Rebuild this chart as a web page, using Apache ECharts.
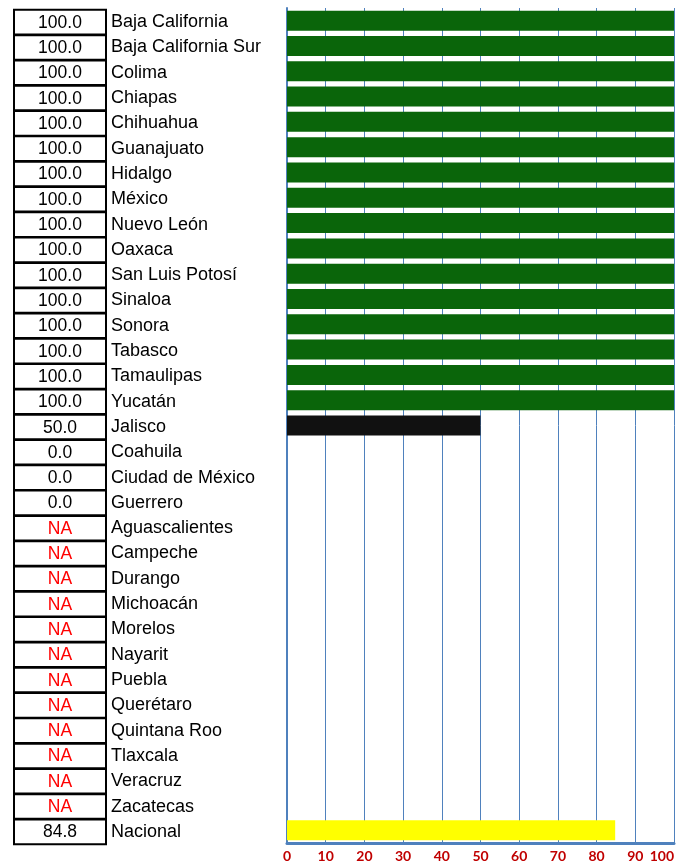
<!DOCTYPE html>
<html>
<head>
<meta charset="utf-8">
<script src="https://cdn.jsdelivr.net/npm/echarts@6/dist/echarts.min.js"></script>
<style>
  html, body { margin: 0; padding: 0; background: #fff; }
  #chartArea { width: 693px; height: 867px; }
</style>
</head>
<body>
<div id="chartArea"></div>
<script>
var states = ['Baja California', 'Baja California Sur', 'Colima', 'Chiapas', 'Chihuahua',
    'Guanajuato', 'Hidalgo', 'México', 'Nuevo León', 'Oaxaca', 'San Luis Potosí', 'Sinaloa',
    'Sonora', 'Tabasco', 'Tamaulipas', 'Yucatán', 'Jalisco', 'Coahuila', 'Ciudad de México',
    'Guerrero', 'Aguascalientes', 'Campeche', 'Durango', 'Michoacán', 'Morelos', 'Nayarit',
    'Puebla', 'Querétaro', 'Quintana Roo', 'Tlaxcala', 'Veracruz', 'Zacatecas', 'Nacional'];
var values = [100, 100, 100, 100, 100, 100, 100, 100, 100, 100, 100, 100, 100, 100, 100, 100,
    50, 0, 0, 0, null, null, null, null, null, null, null, null, null, null, null, null, 84.8];
var xTicks = [0, 10, 20, 30, 40, 50, 60, 70, 80, 90, 100];

var blue = '#4F81BD';
var myChart = echarts.init(document.getElementById('chartArea'));

function barColor(i, v) {
    if (i === states.length - 1) return '#FFFF00';
    if (v === 100) return '#0A650A';
    return '#111111';
}

var seriesData = values.map(function(v, i) {
    return {
        value: v === null ? '-' : v,
        itemStyle: { color: barColor(i, v) }
    };
});

var boxStyle = {
    width: 92, lineHeight: 18, padding: [4, 0, 2.6, 0], align: 'center',
    borderColor: '#000', borderWidth: 2,
    fontFamily: 'Liberation Sans', fontSize: 17.5, color: '#000'
};

var option = {
    backgroundColor: '#ffffff',
    animation: false,
    grid: { left: 287, right: 19, top: 8, bottom: 24 },
    xAxis: {
        type: 'value',
        min: xTicks[0],
        max: xTicks[xTicks.length - 1],
        interval: 10,
        axisLine: { show: true, lineStyle: { color: blue, width: 3 } },
        axisTick: { show: false },
        splitLine: { show: true, lineStyle: { color: blue, width: 1 } },
        axisLabel: {
            margin: 6,
            color: '#C00000',
            fontFamily: 'Lato',
            fontWeight: 'bold',
            fontSize: 14,
            alignMaxLabel: 'right'
        }
    },
    yAxis: {
        type: 'category',
        inverse: true,
        data: states,
        axisLine: { show: true, onZero: false, lineStyle: { color: blue, width: 2 } },
        axisTick: { show: false },
        axisLabel: {
            align: 'left',
            margin: 273,
            interval: 0,
            padding: [3, 0, 0, 0],
            formatter: function(name, idx) {
                var v = values[idx];
                var txt = v === null ? '{na|NA}' : '{v|' + v.toFixed(1) + '}';
                return txt + '{n|' + name + '}';
            },
            rich: {
                v: boxStyle,
                na: Object.assign({}, boxStyle, { color: '#FF0000' }),
                n: {
                    padding: [0, 0, 0, 5],
                    fontFamily: 'Liberation Sans', fontSize: 18, color: '#000'
                }
            }
        }
    },
    series: [{
        type: 'bar',
        data: seriesData,
        barWidth: 20,
        silent: true
    }]
};
myChart.setOption(option);
</script>
</body>
</html>
